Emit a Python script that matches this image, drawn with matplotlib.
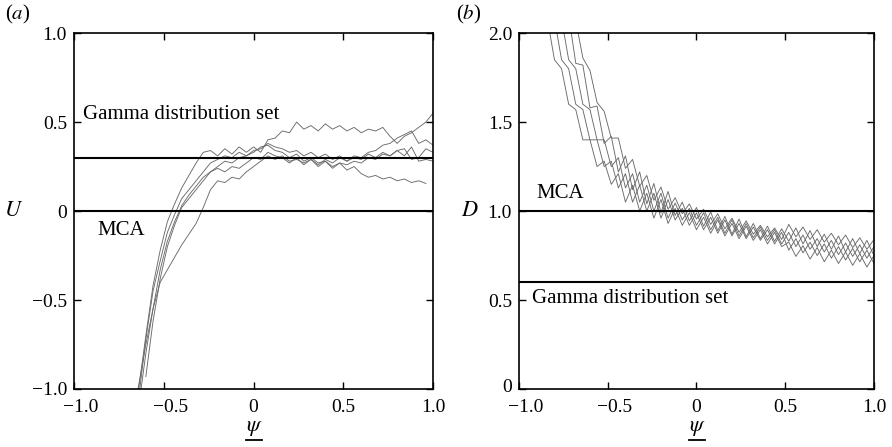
import numpy as np
import matplotlib
matplotlib.use("Agg")
import matplotlib.pyplot as plt
from matplotlib.lines import Line2D
from matplotlib.transforms import ScaledTranslation

plt.rcParams['font.family'] = ['Liberation Serif', 'DejaVu Serif']
plt.rcParams['mathtext.fontset'] = 'stix'

# ---- panel (a): U against psi ----
psi_a = [-0.68, -0.64, -0.60, -0.56, -0.52, -0.48, -0.44, -0.40, -0.36, -0.32,
         -0.28, -0.24, -0.20, -0.16, -0.12, -0.08, -0.04, 0.00, 0.04, 0.08,
         0.12, 0.16, 0.20, 0.24, 0.28, 0.32, 0.36, 0.40, 0.44, 0.48,
         0.52, 0.56, 0.60, 0.64, 0.68, 0.72, 0.76, 0.80, 0.84, 0.88,
         0.92, 0.96, 1.00]
u_run1 = [-1.25, -1.00, -0.70, -0.42, -0.22, -0.06, 0.04, 0.13, 0.20, 0.27,
          0.33, 0.34, 0.31, 0.35, 0.32, 0.36, 0.33, 0.36, 0.33, 0.40,
          0.41, 0.45, 0.44, 0.50, 0.46, 0.48, 0.45, 0.49, 0.46, 0.48,
          0.45, 0.47, 0.44, 0.46, 0.45, 0.47, 0.42, 0.38, 0.42, 0.44,
          0.47, 0.50, 0.55]
u_run2 = [-1.30, -1.05, -0.72, -0.45, -0.28, -0.12, -0.02, 0.07, 0.12, 0.17,
          0.22, 0.27, 0.29, 0.31, 0.30, 0.33, 0.31, 0.34, 0.35, 0.38,
          0.36, 0.35, 0.33, 0.34, 0.31, 0.33, 0.30, 0.32, 0.29, 0.31,
          0.28, 0.31, 0.30, 0.33, 0.34, 0.37, 0.38, 0.41, 0.43, 0.45,
          0.38, 0.40, 0.37]
u_run3 = [-1.35, -1.10, -0.80, -0.55, -0.33, -0.17, -0.06, 0.03, 0.09, 0.14,
          0.19, 0.22, 0.24, 0.22, 0.25, 0.24, 0.27, 0.30, 0.29, 0.33,
          0.31, 0.30, 0.27, 0.30, 0.26, 0.29, 0.25, 0.28, 0.24, 0.27,
          0.26, 0.28, 0.27, 0.30, 0.29, 0.32, 0.31, 0.34, 0.31, 0.36,
          0.28, 0.29, 0.28]
u_run4 = [np.nan, np.nan, -0.93, -0.62, -0.38, -0.20, -0.08, 0.02, 0.07, 0.12,
          0.17, 0.22, 0.25, 0.28, 0.27, 0.30, 0.31, 0.33, 0.36, 0.37,
          0.34, 0.33, 0.30, 0.32, 0.28, 0.30, 0.27, 0.28, 0.25, 0.27,
          0.23, 0.25, 0.21, 0.19, 0.20, 0.18, 0.19, 0.17, 0.18, 0.16,
          0.17, 0.155, np.nan]
u_run5 = [-1.20, -0.98, -0.75, -0.55, -0.40, -0.33, -0.26, -0.19, -0.13, -0.07,
          0.02, 0.12, 0.17, 0.16, 0.19, 0.18, 0.22, 0.25, 0.28, 0.31,
          0.29, 0.31, 0.28, 0.29, 0.27, 0.29, 0.26, 0.29, 0.27, 0.30,
          0.28, 0.30, 0.29, 0.32, 0.30, 0.33, 0.31, 0.34, 0.35, 0.29,
          0.30, 0.35, 0.33]
u_mca = 0.0
u_gamma = 0.3

# ---- panel (b): D against psi ----
psi_b = [-0.84, -0.80, -0.76, -0.72, -0.68, -0.64, -0.60, -0.56, -0.52, -0.48,
         -0.44, -0.40, -0.36, -0.32, -0.28, -0.24, -0.20, -0.16, -0.12, -0.08,
         -0.04, 0.00, 0.04, 0.08, 0.12, 0.16, 0.20, 0.24, 0.28, 0.32,
         0.36, 0.40, 0.44, 0.48, 0.52, 0.56, 0.60, 0.64, 0.68, 0.72,
         0.76, 0.80, 0.84, 0.88, 0.92, 0.96, 1.00]
d_run1 = [2.08, 1.85, 1.80, 1.60, 1.57, 1.40, 1.40, 1.25, 1.28, 1.15,
          1.21, 1.05, 1.145, 1.00, 1.10, 0.96, 1.065, 0.93, 1.015, 0.92,
          0.99, 0.895, 0.965, 0.875, 0.95, 0.86, 0.93, 0.845, 0.915, 0.835,
          0.895, 0.815, 0.88, 0.80, 0.825, 0.745, 0.805, 0.73, 0.795, 0.715,
          0.78, 0.705, 0.77, 0.695, 0.76, 0.685, 0.75]
d_run2 = [2.16, 2.08, 1.85, 1.80, 1.60, 1.57, 1.40, 1.40, 1.25, 1.28,
          1.13, 1.21, 1.05, 1.145, 1.00, 1.10, 0.96, 1.065, 0.95, 1.015,
          0.92, 0.99, 0.895, 0.965, 0.875, 0.95, 0.86, 0.93, 0.845, 0.91,
          0.835, 0.895, 0.815, 0.88, 0.78, 0.845, 0.765, 0.825, 0.75, 0.815,
          0.735, 0.80, 0.725, 0.79, 0.715, 0.78, 0.705]
d_run3 = [2.42, 2.16, 2.08, 1.85, 1.80, 1.60, 1.57, 1.40, 1.40, 1.25,
          1.30, 1.13, 1.21, 1.05, 1.145, 1.00, 1.10, 0.96, 1.045, 0.95,
          1.015, 0.92, 0.99, 0.895, 0.965, 0.875, 0.95, 0.86, 0.93, 0.85,
          0.91, 0.835, 0.895, 0.815, 0.88, 0.80, 0.865, 0.785, 0.845, 0.77,
          0.835, 0.755, 0.82, 0.745, 0.81, 0.735, 0.80]
d_run4 = [2.52, 2.44, 2.14, 2.10, 1.83, 1.82, 1.58, 1.59, 1.38, 1.42,
          1.22, 1.31, 1.12, 1.22, 1.04, 1.155, 0.99, 1.11, 0.975, 1.05,
          0.945, 1.02, 0.915, 0.995, 0.89, 0.97, 0.87, 0.955, 0.855, 0.93,
          0.845, 0.915, 0.83, 0.90, 0.83, 0.905, 0.815, 0.89, 0.80, 0.87,
          0.785, 0.86, 0.77, 0.845, 0.76, 0.835, 0.75]
d_run5 = [2.81, 2.55, 2.41, 2.17, 2.07, 1.86, 1.79, 1.61, 1.56, 1.41,
          1.41, 1.24, 1.29, 1.14, 1.20, 1.06, 1.135, 1.01, 1.075, 0.985,
          1.04, 0.955, 1.01, 0.925, 0.985, 0.90, 0.96, 0.88, 0.945, 0.87,
          0.92, 0.855, 0.905, 0.84, 0.925, 0.855, 0.91, 0.84, 0.895, 0.825,
          0.875, 0.81, 0.865, 0.795, 0.85, 0.785, 0.84]
d_mca = 1.0
d_gamma = 0.6

psi_ticks = [-1.0, -0.5, 0.0, 0.5, 1.0]
psi_ticklabels = ['\u22121.0', '\u22120.5', '0', '0.5', '1.0']
u_ticks = [-1.0, -0.5, 0.0, 0.5, 1.0]
u_ticklabels = ['\u22121.0', '\u22120.5', '0', '0.5', '1.0']
d_ticks = [0.0, 0.5, 1.0, 1.5, 2.0]
d_ticklabels = ['0', '0.5', '1.0', '1.5', '2.0']

fig = plt.figure(figsize=(8.92, 4.47), dpi=100)
ax_a = fig.add_axes([0.083, 0.1298, 0.4025, 0.7962])
ax_b = fig.add_axes([0.5818, 0.1298, 0.398, 0.7962])

curve_kw = dict(color='#6a6a6a', lw=0.65)
level_kw = dict(color='black', lw=1.5)

for run in [u_run1, u_run2, u_run3, u_run4, u_run5]:
    ax_a.plot(psi_a, run, **curve_kw)
ax_a.axhline(u_gamma, **level_kw)
ax_a.axhline(u_mca, **level_kw)
ax_a.text(-0.95, 0.54, 'Gamma distribution set', fontsize=15, va='center')
ax_a.text(-0.87, -0.11, 'MCA', fontsize=15, va='center')
ax_a.set_xlim(-1, 1)
ax_a.set_ylim(-1, 1)
ax_a.set_yticks(u_ticks)
ax_a.set_yticklabels(u_ticklabels)

for run in [d_run1, d_run2, d_run3, d_run4, d_run5]:
    ax_b.plot(psi_b, run, **curve_kw)
ax_b.axhline(d_mca, **level_kw)
ax_b.axhline(d_gamma, **level_kw)
ax_b.text(-0.90, 1.10, 'MCA', fontsize=15, va='center')
ax_b.text(-0.925, 0.51, 'Gamma distribution set', fontsize=15, va='center')
ax_b.set_xlim(-1, 1)
ax_b.set_ylim(0, 2)
ax_b.set_yticks(d_ticks)
ax_b.set_yticklabels(d_ticklabels)

# negative x labels sit a little right of their ticks, as in the original
shift = ScaledTranslation(7 / 100, 0, fig.dpi_scale_trans)
for ax in [ax_a, ax_b]:
    ax.set_xticks(psi_ticks)
    ax.set_xticklabels(psi_ticklabels)
    ax.tick_params(direction='in', top=True, right=True, length=5, width=1,
                   labelsize=14)
    ax.tick_params(axis='x', pad=7)
    ax.tick_params(axis='y', pad=5)
    for lab in ax.get_xticklabels():
        if lab.get_text().startswith('\u2212'):
            lab.set_transform(lab.get_transform() + shift)
    for sp in ax.spines.values():
        sp.set_linewidth(1.2)

# lowest y label of (b) sits slightly high so it clears the x labels
lift = ScaledTranslation(0, 3 / 100, fig.dpi_scale_trans)
zero_lab = ax_b.get_yticklabels()[0]
zero_lab.set_transform(zero_lab.get_transform() + lift)

# axis labels
fig.text(14 / 892, 1 - 211 / 447, '$U$', fontsize=16, ha='center', va='center')
fig.text(470 / 892, 1 - 211 / 447, '$D$', fontsize=16, ha='center', va='center')
for cx in [254, 697]:
    fig.text(cx / 892, 1 - 428 / 447, r'$\psi$', fontsize=16, ha='center', va='center')
    fig.add_artist(Line2D([(cx - 8) / 892, (cx + 8) / 892],
                          [1 - 440 / 447, 1 - 440 / 447],
                          color='black', lw=1.3, transform=fig.transFigure))

fig.text(5 / 892, 1 - 14 / 447, '($a$)', fontsize=15, va='center')
fig.text(456 / 892, 1 - 14 / 447, '($b$)', fontsize=15, va='center')

fig.savefig('out.png', dpi=100)
